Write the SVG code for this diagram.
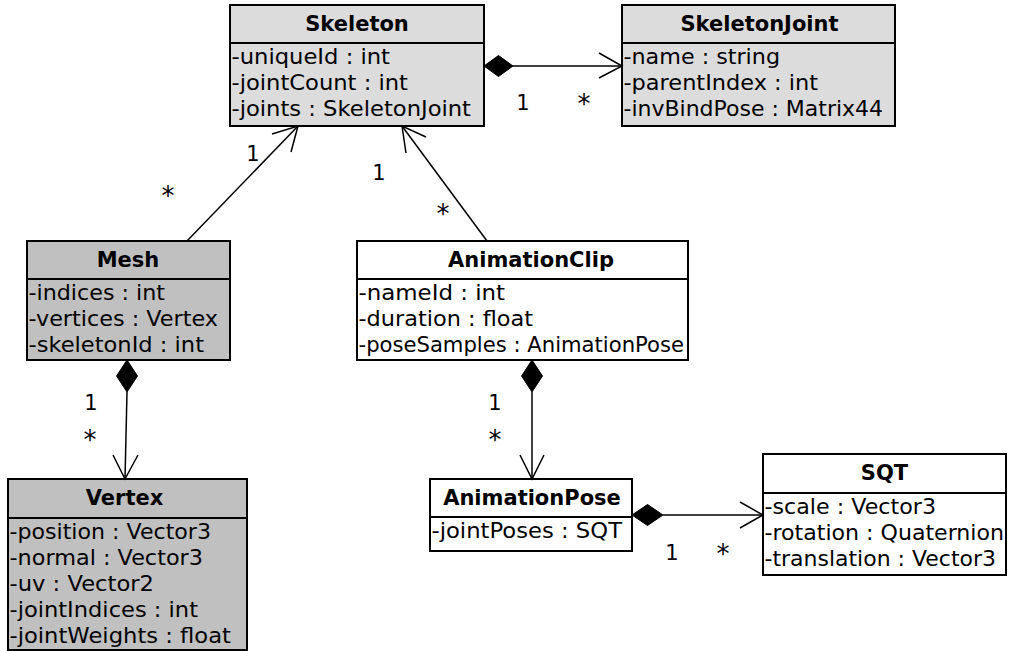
<svg xmlns="http://www.w3.org/2000/svg" width="1009" height="651" viewBox="0 0 1009 651">
<style>
.box{stroke:#000;stroke-width:2}
.light{fill:#dcdcdc}
.dark{fill:#c0c0c0}
.white{fill:#fff}
.div{stroke:#000;stroke-width:2}
.title{font-family:"DejaVu Sans",Verdana,sans-serif;font-size:21px;font-weight:bold;text-anchor:middle;fill:#000}
.attr{font-family:"DejaVu Sans",Verdana,sans-serif;font-size:21px;fill:#000}
.mult{font-family:"DejaVu Sans",Verdana,sans-serif;font-size:21px;text-anchor:middle;fill:#000}
.star{font-family:"DejaVu Sans",Verdana,sans-serif;font-size:26px;text-anchor:middle;fill:#000}
.line{stroke:#000;stroke-width:1.5;fill:none}
.dia{fill:#000;stroke:#000;stroke-width:1}
</style>
<rect width="1009" height="651" fill="#fff"/>
<g id="Skeleton">
<rect class="box light" x="230" y="5" width="254" height="121"/>
<line class="div" x1="230" y1="43" x2="484" y2="43"/>
<text class="title" x="357" y="31">Skeleton</text>
<text class="attr" x="231.5" y="64" textLength="158.5" lengthAdjust="spacingAndGlyphs">-uniqueId : int</text>
<text class="attr" x="231.5" y="90" textLength="176.5" lengthAdjust="spacingAndGlyphs">-jointCount : int</text>
<text class="attr" x="231.5" y="116" textLength="239.5" lengthAdjust="spacingAndGlyphs">-joints : SkeletonJoint</text>
</g>
<g id="SkeletonJoint">
<rect class="box light" x="622" y="5" width="273" height="121"/>
<line class="div" x1="622" y1="43" x2="895" y2="43"/>
<text class="title" x="759.5" y="31">SkeletonJoint</text>
<text class="attr" x="623.5" y="64" textLength="156.5" lengthAdjust="spacingAndGlyphs">-name : string</text>
<text class="attr" x="623.5" y="90" textLength="194.5" lengthAdjust="spacingAndGlyphs">-parentIndex : int</text>
<text class="attr" x="623.5" y="116" textLength="259.5" lengthAdjust="spacingAndGlyphs">-invBindPose : Matrix44</text>
</g>
<g id="Mesh">
<rect class="box dark" x="27" y="241" width="203" height="119"/>
<line class="div" x1="27" y1="279" x2="230" y2="279"/>
<text class="title" x="128" y="267">Mesh</text>
<text class="attr" x="28.5" y="300" textLength="136.5" lengthAdjust="spacingAndGlyphs">-indices : int</text>
<text class="attr" x="28.5" y="326" textLength="189.5" lengthAdjust="spacingAndGlyphs">-vertices : Vertex</text>
<text class="attr" x="28.5" y="352" textLength="175.5" lengthAdjust="spacingAndGlyphs">-skeletonId : int</text>
</g>
<g id="AnimationClip">
<rect class="box white" x="357" y="241" width="331" height="119"/>
<line class="div" x1="357" y1="279" x2="688" y2="279"/>
<text class="title" x="531" y="267">AnimationClip</text>
<text class="attr" x="358.5" y="300" textLength="146.5" lengthAdjust="spacingAndGlyphs">-nameId : int</text>
<text class="attr" x="358.5" y="326" textLength="174.5" lengthAdjust="spacingAndGlyphs">-duration : float</text>
<text class="attr" x="358.5" y="352" textLength="325.5" lengthAdjust="spacingAndGlyphs">-poseSamples : AnimationPose</text>
</g>
<g id="Vertex">
<rect class="box dark" x="8" y="479" width="239" height="171"/>
<line class="div" x1="8" y1="518" x2="247" y2="518"/>
<text class="title" x="124.5" y="505">Vertex</text>
<text class="attr" x="9.5" y="539" textLength="201.5" lengthAdjust="spacingAndGlyphs">-position : Vector3</text>
<text class="attr" x="9.5" y="565" textLength="193.5" lengthAdjust="spacingAndGlyphs">-normal : Vector3</text>
<text class="attr" x="9.5" y="591" textLength="144.5" lengthAdjust="spacingAndGlyphs">-uv : Vector2</text>
<text class="attr" x="9.5" y="617" textLength="188.5" lengthAdjust="spacingAndGlyphs">-jointIndices : int</text>
<text class="attr" x="9.5" y="643" textLength="221.5" lengthAdjust="spacingAndGlyphs">-jointWeights : float</text>
</g>
<g id="AnimationPose">
<rect class="box white" x="430" y="479" width="202" height="72"/>
<line class="div" x1="430" y1="517" x2="632" y2="517"/>
<text class="title" x="532" y="505">AnimationPose</text>
<text class="attr" x="431.5" y="538" textLength="190.5" lengthAdjust="spacingAndGlyphs">-jointPoses : SQT</text>
</g>
<g id="SQT">
<rect class="box white" x="763" y="454" width="243" height="121"/>
<line class="div" x1="763" y1="493" x2="1006" y2="493"/>
<text class="title" x="884.5" y="480">SQT</text>
<text class="attr" x="764.5" y="514" textLength="171.5" lengthAdjust="spacingAndGlyphs">-scale : Vector3</text>
<text class="attr" x="764.5" y="540" textLength="239.5" lengthAdjust="spacingAndGlyphs">-rotation : Quaternion</text>
<text class="attr" x="764.5" y="566" textLength="231.5" lengthAdjust="spacingAndGlyphs">-translation : Vector3</text>
</g>
<g id="connectors">
<!-- Skeleton -> SkeletonJoint -->
<polygon class="dia" points="484,66 498.5,55.5 513,66 498.5,76.5"/>
<line class="line" x1="513" y1="66" x2="622" y2="66"/>
<polyline class="line" points="599,53 622,66 599,78"/>
<text class="mult" x="523" y="110">1</text>
<text class="star" x="584" y="113">*</text>
<!-- Mesh -> Skeleton -->
<line class="line" x1="187" y1="241" x2="298" y2="126"/>
<polyline class="line" points="272,134 298,126 291,152"/>
<text class="mult" x="253" y="161">1</text>
<text class="star" x="168" y="205">*</text>
<!-- AnimationClip -> Skeleton -->
<line class="line" x1="487" y1="241" x2="402" y2="126"/>
<polyline class="line" points="406,153 402,126 426,137"/>
<text class="mult" x="379" y="180">1</text>
<text class="star" x="443" y="223">*</text>
<!-- Mesh -> Vertex -->
<polygon class="dia" points="127,360 137.5,376 127,392 116.5,376"/>
<line class="line" x1="127" y1="392" x2="125" y2="479"/>
<polyline class="line" points="113,455 125,479 138,455"/>
<text class="mult" x="91" y="410">1</text>
<text class="star" x="90" y="449">*</text>
<!-- AnimationClip -> AnimationPose -->
<polygon class="dia" points="532,360 542.5,376 532,392 521.5,376"/>
<line class="line" x1="532" y1="392" x2="532" y2="479"/>
<polyline class="line" points="520,455 532,479 544,455"/>
<text class="mult" x="495" y="410">1</text>
<text class="star" x="495" y="449">*</text>
<!-- AnimationPose -> SQT -->
<polygon class="dia" points="632,515 647.5,504.5 663,515 647.5,525.5"/>
<line class="line" x1="663" y1="515" x2="763" y2="515"/>
<polyline class="line" points="740,502 763,515 740,528"/>
<text class="mult" x="672" y="560">1</text>
<text class="star" x="723" y="563">*</text>
</g>
</svg>
